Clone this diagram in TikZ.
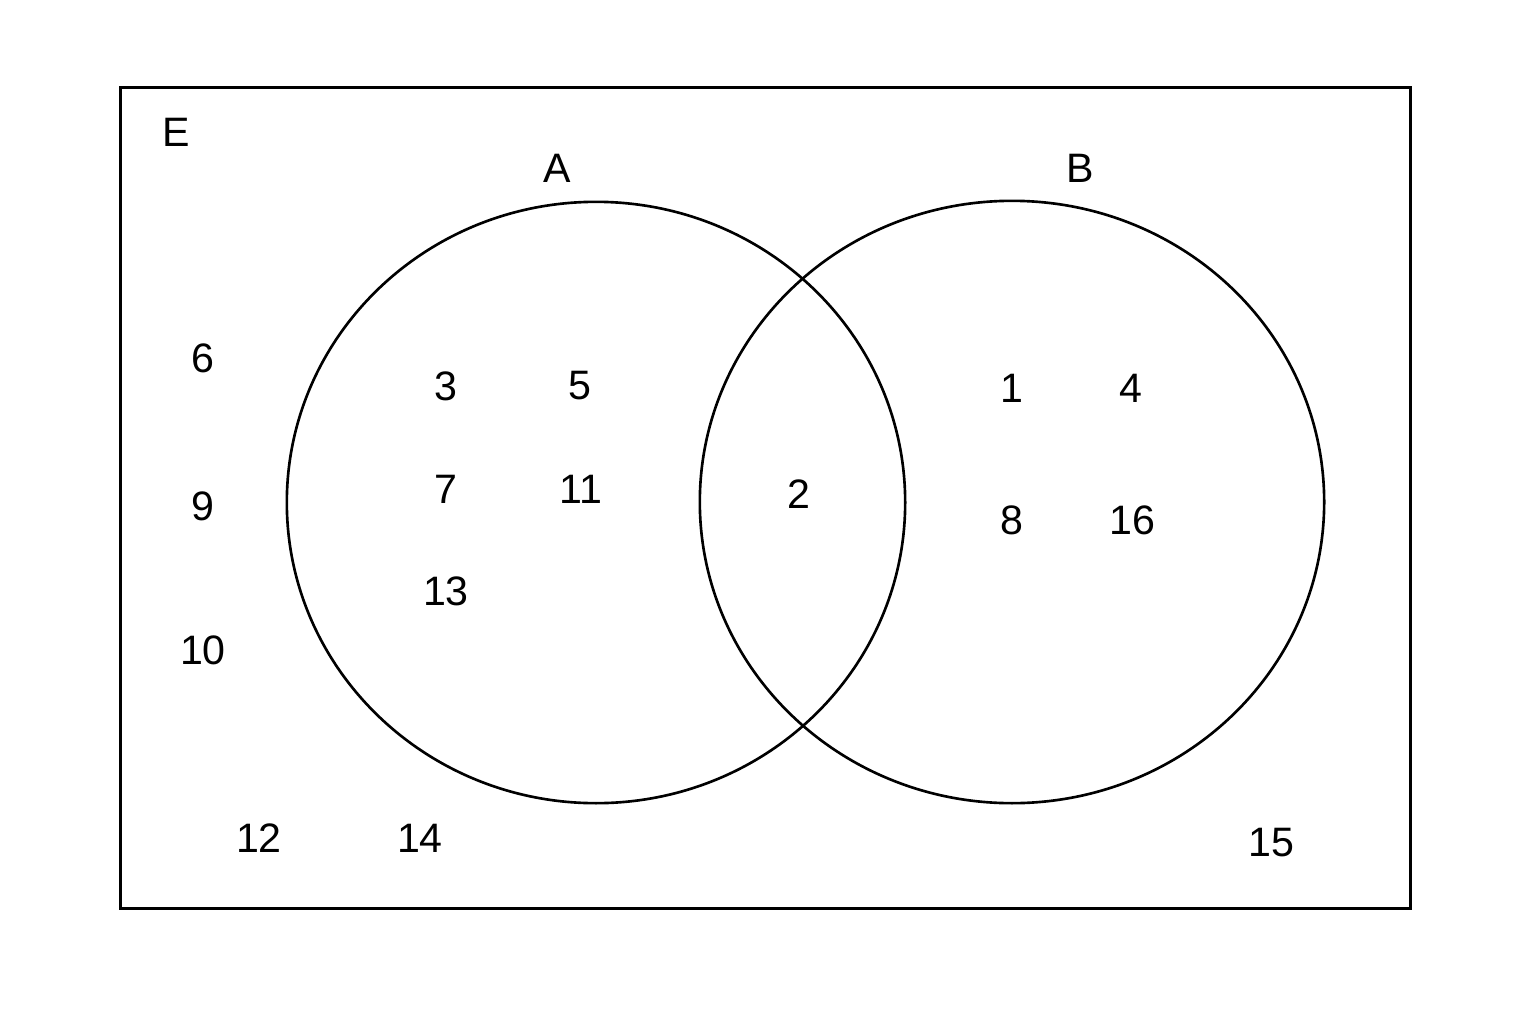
\documentclass[tikz,border=0pt]{standalone}
\usepackage{fontspec}
\setmainfont{Liberation Sans}
\usetikzlibrary{shapes.geometric}
\begin{document}
\begin{tikzpicture}[x=0.01cm,y=-0.01cm,
  lbl/.style={font=\fontsize{11.7}{14}\selectfont, inner sep=0pt},
  outline/.style={line width=0.75pt, draw=black}]
\useasboundingbox (0,0) rectangle (1536,1024);
\node[outline, rectangle, minimum width=12.89cm, minimum height=8.2cm, inner sep=0pt] (univ) at (765.5,498) {};
\node[outline, ellipse, minimum width=6.18cm, minimum height=6.01cm, inner sep=0pt] (setA) at (596,502.5) {};
\node[outline, ellipse, minimum width=6.24cm, minimum height=6.02cm, inner sep=0pt] (setB) at (1012,502) {};
\node[lbl] (lE) at (176,132) {E};
\node[lbl] (lA) at (557,168) {A};
\node[lbl] (lB) at (1080,168) {B};
\node[lbl] (n6) at (203,358) {6};
\node[lbl] (n9) at (203,506) {9};
\node[lbl] (n10) at (203,650) {10};
\node[lbl] (n12) at (259,838) {12};
\node[lbl] (n14) at (420,838) {14};
\node[lbl] (n3) at (446,386) {3};
\node[lbl] (n5) at (580,386) {5};
\node[lbl] (n7) at (446,489) {7};
\node[lbl] (n11) at (581,489) {11};
\node[lbl] (n13) at (446,591) {13};
\node[lbl] (n2) at (799,494) {2};
\node[lbl] (n1) at (1012,388) {1};
\node[lbl] (n4) at (1131,388) {4};
\node[lbl] (n8) at (1012,520) {8};
\node[lbl] (n16) at (1132,520) {16};
\node[lbl] (n15) at (1271,843) {15};
\end{tikzpicture}
\end{document}
